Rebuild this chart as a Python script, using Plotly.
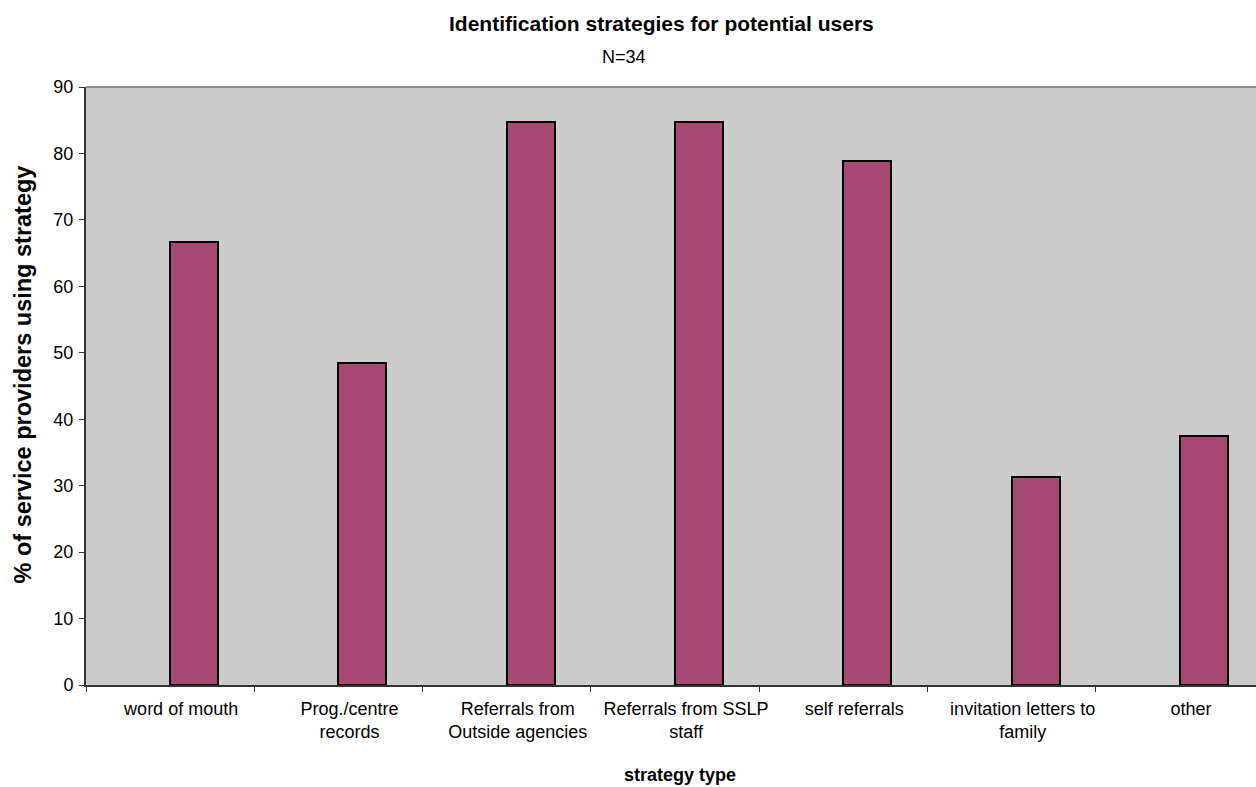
import plotly.graph_objects as go

# Share of service providers (%) using each identification strategy
strategies = [
    "word of mouth",
    "Prog./centre<br>records",
    "Referrals from<br>Outside agencies",
    "Referrals from SSLP<br>staff",
    "self referrals",
    "invitation letters to<br>family",
    "other",
]
pct_using = [66.7, 48.5, 84.8, 84.8, 78.8, 31.3, 37.5]
y_ticks = [0, 10, 20, 30, 40, 50, 60, 70, 80, 90]

W, H = 1256, 787
L, T, B, R = 86, 87, 102, 0
plot_w = W - L - R
plot_h = H - T - B
cat_px = 168.3  # width of one category slot in pixels

FONT = "Liberation Sans, Arial, sans-serif"

fig = go.Figure(
    go.Bar(
        x=strategies,
        y=pct_using,
        width=0.285,
        offset=0,
        marker=dict(color="#A94874", line=dict(color="#000000", width=2)),
        hoverinfo="x+y",
    )
)


def px_x(p):
    return (p - L) / plot_w


def px_y(p):
    return (H - B - p) / plot_h


fig.update_layout(
    width=W,
    height=H,
    margin=dict(l=L, r=R, t=T, b=B, pad=0),
    paper_bgcolor="#FFFFFF",
    plot_bgcolor="#CCCCCC",
    showlegend=False,
    font=dict(family=FONT, color="#000000", size=18),
    bargap=0,
)

fig.update_xaxes(
    range=[-0.5, -0.5 + plot_w / cat_px],
    tickson="boundaries",
    ticks="outside",
    ticklen=5,
    tickwidth=1,
    tickcolor="#333333",
    showline=True,
    linecolor="#333333",
    linewidth=2,
    showgrid=False,
    zeroline=False,
    tickfont=dict(family=FONT, size=18, color="#000000"),
    ticklabelshift=11,
    ticklabelstandoff=6,
    tickangle=0,
)

fig.update_yaxes(
    range=[0, 90],
    tickvals=y_ticks,
    ticks="outside",
    ticklen=5,
    tickwidth=1,
    tickcolor="#333333",
    showline=True,
    linecolor="#333333",
    linewidth=2,
    showgrid=False,
    zeroline=False,
    tickfont=dict(family=FONT, size=18, color="#000000"),
    ticklabelstandoff=2,
)

# Top edge of the plot area
fig.add_shape(
    type="line", xref="paper", yref="paper",
    x0=0, x1=1, y0=1, y1=1,
    line=dict(color="#8C8C8C", width=2),
)

annotations = [
    dict(text="<b>Identification strategies for potential users</b>",
         x=px_x(661), y=px_y(24), font=dict(size=21)),
    dict(text="N=34", x=px_x(624), y=px_y(57), font=dict(size=18)),
    dict(text="<b>strategy type</b>", x=px_x(680), y=px_y(775), font=dict(size=18)),
    dict(text="<b>% of service providers using strategy</b>",
         x=px_x(22), y=px_y(374.5), textangle=-90, font=dict(size=23.5)),
]
for a in annotations:
    fig.add_annotation(
        xref="paper", yref="paper", showarrow=False,
        xanchor="center", yanchor="middle",
        font=dict(family=FONT, color="#000000", size=a["font"]["size"]),
        **{k: v for k, v in a.items() if k != "font"},
    )

fig.write_html("out.html")
